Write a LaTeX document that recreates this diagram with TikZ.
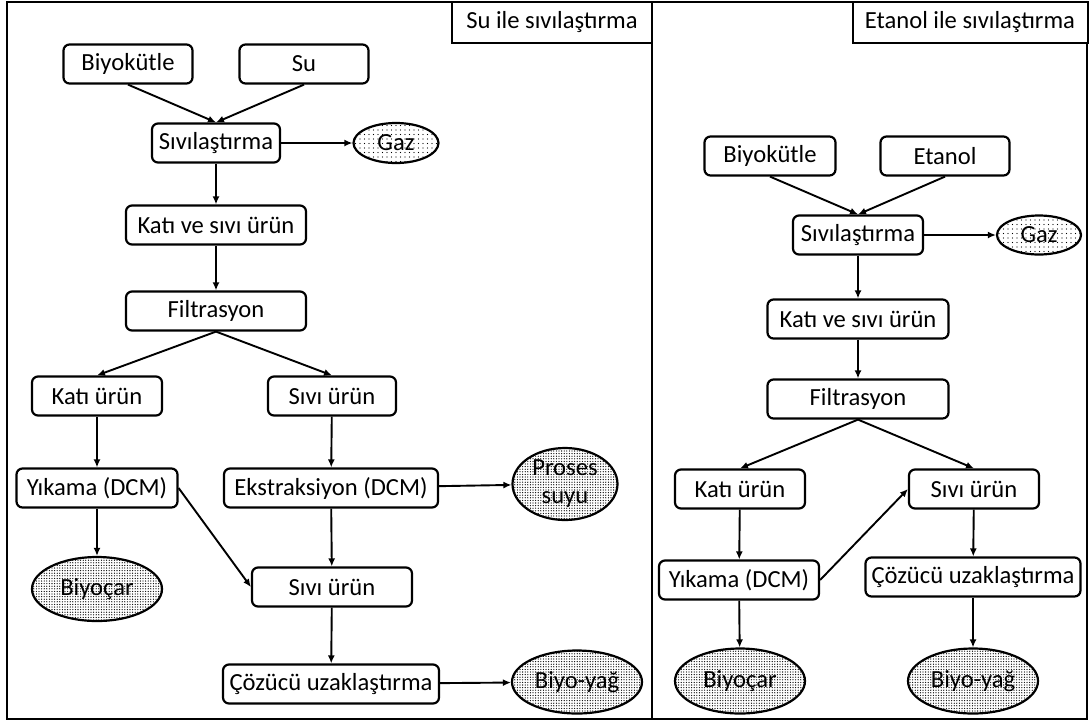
\documentclass[tikz,border=0pt]{standalone}
\usepackage{fontspec}
\setmainfont{Carlito}
\usetikzlibrary{shapes.geometric,arrows.meta,patterns.meta}
\begin{document}
\begin{tikzpicture}[x=1pt,y=-1pt,
  every node/.style={font=\fontsize{24.6}{28}\selectfont},
  stepbox/.style={draw,line width=2.2pt,rounded corners=6pt,fill=white,minimum height=39pt,inner sep=1pt},
  sparse/.style={draw,ellipse,line width=2.2pt,inner sep=0pt,pattern={Dots[radius=0.6pt,distance=4.5pt]}},
  dense/.style={draw,ellipse,line width=2.2pt,inner sep=0pt,pattern={Dots[radius=0.65pt,distance=2.6pt]}},
  titlebox/.style={draw,line width=2pt,fill=white,minimum height=41pt,inner sep=1pt},
  arr/.style={line width=1.9pt,-{Latex[length=8pt,width=7pt]}}]
\useasboundingbox (0,0) rectangle (1089,724);
\draw[line width=2.4pt] (7,2) rectangle (1087,719);
\coordinate (dtop) at (652,2);
\coordinate (dbot) at (652,719);
\draw[line width=2.4pt] (dtop) -- (dbot);
\node[titlebox,minimum width=200pt] (ltitle) at (552,22) {Su ile sıvılaştırma};
\node[titlebox,minimum width=235pt] (rtitle) at (970,22) {Etanol ile sıvılaştırma};

% left panel
\node[stepbox,minimum width=129pt] (lbio) at (128,64) {Biyokütle};
\node[stepbox,minimum width=129pt] (lsu) at (304,64) {Su};
\node[stepbox,minimum width=128pt] (lsiv) at (216,143) {Sıvılaştırma};
\node[sparse,minimum width=85pt,minimum height=40pt] (lgaz) at (396,143) {Gaz};
\node[stepbox,minimum width=180pt] (lkvs) at (216,225) {Katı ve sıvı ürün};
\node[stepbox,minimum width=180pt] (lfil) at (216,311) {Filtrasyon};
\node[stepbox,minimum width=130pt] (lkat) at (97,396) {Katı ürün};
\node[stepbox,minimum width=128pt] (lsivu) at (332,396) {Sıvı ürün};
\node[stepbox,minimum width=161pt] (lyik) at (97,488) {Yıkama (DCM)};
\node[stepbox,minimum width=214pt] (lekst) at (331,488) {Ekstraksiyon (DCM)};
\node[dense,minimum width=105pt,minimum height=72pt,align=center] (lproses) at (565,484) {Proses\\suyu};
\node[dense,minimum width=130pt,minimum height=64pt] (lbiyocar) at (97,589) {Biyoçar};
\node[stepbox,minimum width=160pt] (lsivu2) at (332,587) {Sıvı ürün};
\node[stepbox,minimum width=216pt] (lcoz) at (331,684) {Çözücü uzaklaştırma};
\node[dense,minimum width=130pt,minimum height=63pt] (lyag) at (577,682) {Biyo-yağ};

\draw[arr] (lbio.south) -- (lsiv.north);
\draw[arr] (lsu.south) -- (lsiv.north);
\draw[arr] (lsiv) -- (lgaz);
\draw[arr] (lsiv) -- (lkvs);
\draw[arr] (lkvs) -- (lfil);
\draw[arr] (lfil.south) -- (lkat.north);
\draw[arr] (lfil.south) -- (lsivu.north);
\draw[arr] (lkat) -- (lyik);
\draw[arr] (lsivu) -- (lekst);
\draw[arr] (lekst) -- (lproses);
\draw[arr] (lyik) -- (lbiyocar);
\draw[arr] (lyik.east) -- (lsivu2.west);
\draw[arr] (lekst) -- (lsivu2);
\draw[arr] (lsivu2) -- (lcoz);
\draw[arr] (lcoz) -- (lyag);

% right panel
\node[stepbox,minimum width=131pt] (rbio) at (770,156) {Biyokütle};
\node[stepbox,minimum width=129pt] (reta) at (945,156) {Etanol};
\node[stepbox,minimum width=130pt] (rsiv) at (858,235) {Sıvılaştırma};
\node[sparse,minimum width=84pt,minimum height=39pt] (rgaz) at (1039,235) {Gaz};
\node[stepbox,minimum width=181pt] (rkvs) at (858,319) {Katı ve sıvı ürün};
\node[stepbox,minimum width=181pt] (rfil) at (858,399) {Filtrasyon};
\node[stepbox,minimum width=130pt] (rkat) at (740,489) {Katı ürün};
\node[stepbox,minimum width=130pt] (rsivu) at (974,489) {Sıvı ürün};
\node[stepbox,minimum width=160pt] (ryik) at (739,580) {Yıkama (DCM)};
\node[stepbox,minimum width=215pt] (rcoz) at (973,577) {Çözücü uzaklaştırma};
\node[dense,minimum width=130pt,minimum height=65pt] (rbiyocar) at (740,681) {Biyoçar};
\node[dense,minimum width=130pt,minimum height=65pt] (ryag) at (973,681) {Biyo-yağ};

\draw[arr] (rbio.south) -- (rsiv.north);
\draw[arr] (reta.south) -- (rsiv.north);
\draw[arr] (rsiv) -- (rgaz);
\draw[arr] (rsiv) -- (rkvs);
\draw[arr] (rkvs) -- (rfil);
\draw[arr] (rfil.south) -- (rkat.north);
\draw[arr] (rfil.south) -- (rsivu.north);
\draw[arr] (rkat) -- (ryik);
\draw[arr] (ryik.east) -- (rsivu.west);
\draw[arr] (rsivu) -- (rcoz);
\draw[arr] (ryik) -- (rbiyocar);
\draw[arr] (rcoz) -- (ryag);
\end{tikzpicture}
\end{document}
